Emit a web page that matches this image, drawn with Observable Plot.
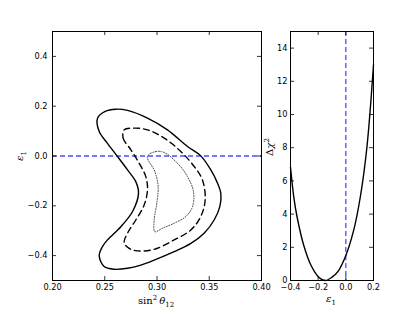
<!DOCTYPE html>
<html><head><meta charset="utf-8">
<script src="https://cdn.jsdelivr.net/npm/d3@7"></script>
<script src="https://cdn.jsdelivr.net/npm/@observablehq/plot@0.6"></script>
<style>
body{margin:0;background:#fff;}
#fig{position:relative;width:415px;height:312px;background:#fff;overflow:hidden;}
#fig svg{position:absolute;top:0;}
.lab{position:absolute;font-family:"DejaVu Serif","Liberation Serif",serif;color:#000;white-space:nowrap;line-height:1;}
.lab sup,.lab sub{font-size:7px;line-height:0;}
</style>
</head><body>
<div id="fig"></div>
<script>
// Outer (solid) contour: [sin^2 theta12, eps1]
const outerX = [0.2431,0.2504,0.2606,0.2718,0.2909,0.3100,0.3292,0.3419,0.3515,0.3579,0.3611,0.3601,0.3547,0.3451,0.3324,0.3164,0.2973,0.2845,0.2718,0.2590,0.2494,0.2447,0.2478,0.2526,0.2654,0.2766,0.2823,0.2797,0.2718,0.2622,0.2526,0.2447];
const outerY = [0.152,0.179,0.188,0.183,0.152,0.105,0.038,0.0005,-0.056,-0.109,-0.150,-0.203,-0.257,-0.310,-0.351,-0.384,-0.418,-0.438,-0.451,-0.455,-0.444,-0.400,-0.364,-0.337,-0.284,-0.223,-0.150,-0.103,-0.056,-0.002,0.051,0.098];
// Middle (dashed) contour
const midX = [0.2686,0.2676,0.2750,0.2829,0.2893,0.2909,0.2877,0.2797,0.2718,0.2686,0.2734,0.2813,0.2973,0.3164,0.3324,0.3419,0.3461,0.3435,0.3356,0.3228,0.3069,0.2909,0.2781];
const midY = [0.105,0.072,0.025,-0.029,-0.083,-0.136,-0.197,-0.257,-0.310,-0.348,-0.371,-0.381,-0.375,-0.337,-0.297,-0.243,-0.176,-0.096,-0.042,0.018,0.072,0.105,0.112];
// Inner (dotted) contour
const innX = [0.2909,0.2989,0.3069,0.3196,0.3292,0.3349,0.3340,0.3276,0.3164,0.3053,0.2979,0.2973,0.2998,0.3011,0.2979];
const innY = [-0.002,0.018,0.014,-0.029,-0.083,-0.143,-0.203,-0.243,-0.270,-0.290,-0.304,-0.257,-0.190,-0.123,-0.062];
// Right panel: delta chi^2 vs eps1
const epsVals = [-0.4,-0.376,-0.352,-0.304,-0.251,-0.196,-0.148,-0.1,-0.052,0.0,0.056,0.104,0.152,0.2];
const chi2Vals = [6.82,5.01,3.81,2.11,0.90,0.20,0.0,0.2,0.6,1.5,3.0,5.0,8.0,13.0];
// ticks
const leftXTicks = [0.20,0.25,0.30,0.35,0.40];
const leftYTicks = [-0.4,-0.2,0.0,0.2,0.4];
const rightXTicks = [-0.4,-0.2,0.0,0.2];
const rightYTicks = [0,2,4,6,8,10,12,14];

const toPts = (xs, ys) => xs.map((x, i) => ({x, y: ys[i]}));
const fmt = (d, n) => d.toFixed(n).replace("-", "\u2212");
const font = "DejaVu Sans";
const fs = 8.2;

function frameTicks(xt, yt, H, W) {
  const t = 4;
  return [
    Plot.ruleX(xt, {x: d => d, insetTop: H - t, stroke: "#000", strokeWidth: 0.8}),
    Plot.ruleX(xt, {x: d => d, insetBottom: H - t, stroke: "#000", strokeWidth: 0.8}),
    Plot.ruleY(yt, {y: d => d, insetRight: W - t, stroke: "#000", strokeWidth: 0.8}),
    Plot.ruleY(yt, {y: d => d, insetLeft: W - t, stroke: "#000", strokeWidth: 0.8})
  ];
}

// Left panel
const Lw = 270, Lh = 312, Lml = 52, Lmr = 9, Lmt = 31, Lmb = 32;
const left = Plot.plot({
  width: Lw, height: Lh,
  marginLeft: Lml, marginRight: Lmr, marginTop: Lmt, marginBottom: Lmb,
  style: {fontFamily: font, fontSize: fs + "px", background: "transparent", color: "#000", overflow: "visible"},
  x: {domain: [0.2, 0.4], ticks: leftXTicks, tickFormat: d => fmt(d, 2), tickSize: 0, tickPadding: 4, label: null},
  y: {domain: [-0.5, 0.5], ticks: leftYTicks, tickFormat: d => fmt(d, 1), tickSize: 0, tickPadding: 5, label: null},
  marks: [
    Plot.ruleY([0], {stroke: "#4b4bff", strokeWidth: 1.3, strokeDasharray: "5,3"}),
    Plot.line(toPts(outerX, outerY), {x: "x", y: "y", curve: "catmull-rom-closed", stroke: "#000", strokeWidth: 1.4}),
    Plot.line(toPts(midX, midY), {x: "x", y: "y", curve: "catmull-rom-closed", stroke: "#000", strokeWidth: 1.4, strokeDasharray: "6,4"}),
    Plot.line(toPts(innX, innY), {x: "x", y: "y", curve: "catmull-rom-closed", stroke: "#333", strokeWidth: 0.9, strokeDasharray: "1,1.6"}),
    ...frameTicks(leftXTicks, leftYTicks, Lh - Lmt - Lmb, Lw - Lml - Lmr),
    Plot.frame({stroke: "#000", strokeWidth: 1})
  ]
});
left.style.left = "0px";

// Right panel
const Rw = 155, Rh = 312, Rml = 30, Rmr = 42, Rmt = 31, Rmb = 32;
const right = Plot.plot({
  width: Rw, height: Rh,
  marginLeft: Rml, marginRight: Rmr, marginTop: Rmt, marginBottom: Rmb,
  style: {fontFamily: font, fontSize: fs + "px", background: "transparent", color: "#000", overflow: "visible"},
  x: {domain: [-0.4, 0.2], ticks: rightXTicks, tickFormat: d => fmt(d, 1), tickSize: 0, tickPadding: 4, label: null},
  y: {domain: [0, 15], ticks: rightYTicks, tickFormat: d => String(d), tickSize: 0, tickPadding: 3, label: null},
  marks: [
    Plot.ruleX([0], {stroke: "#4b4bff", strokeWidth: 1.3, strokeDasharray: "5,3"}),
    Plot.line(toPts(epsVals, chi2Vals), {x: "x", y: "y", curve: "catmull-rom", stroke: "#000", strokeWidth: 1.4}),
    ...frameTicks(rightXTicks, rightYTicks, Rh - Rmt - Rmb, Rw - Rml - Rmr),
    Plot.frame({stroke: "#000", strokeWidth: 1})
  ]
});
right.style.left = "260px";

const fig = document.getElementById("fig");
fig.appendChild(left);
fig.appendChild(right);

function addLabel(html, x, y, rot, size) {
  const d = document.createElement("div");
  d.className = "lab";
  d.innerHTML = html;
  d.style.fontSize = size + "px";
  d.style.left = x + "px";
  d.style.top = y + "px";
  d.style.transform = "translate(-50%,-50%)" + (rot ? " rotate(" + rot + "deg)" : "");
  fig.appendChild(d);
}
addLabel("sin<sup>2</sup>&thinsp;<i>θ</i><sub>12</sub>", 156, 301, 0, 10);
addLabel("<i>ε</i><sub>1</sub>", 20, 156, -90, 10);
addLabel("Δ<i>χ</i><sup>2</sup>", 270, 147, -90, 10);
addLabel("<i>ε</i><sub>1</sub>", 331, 299, 0, 10);
</script>
</body></html>
